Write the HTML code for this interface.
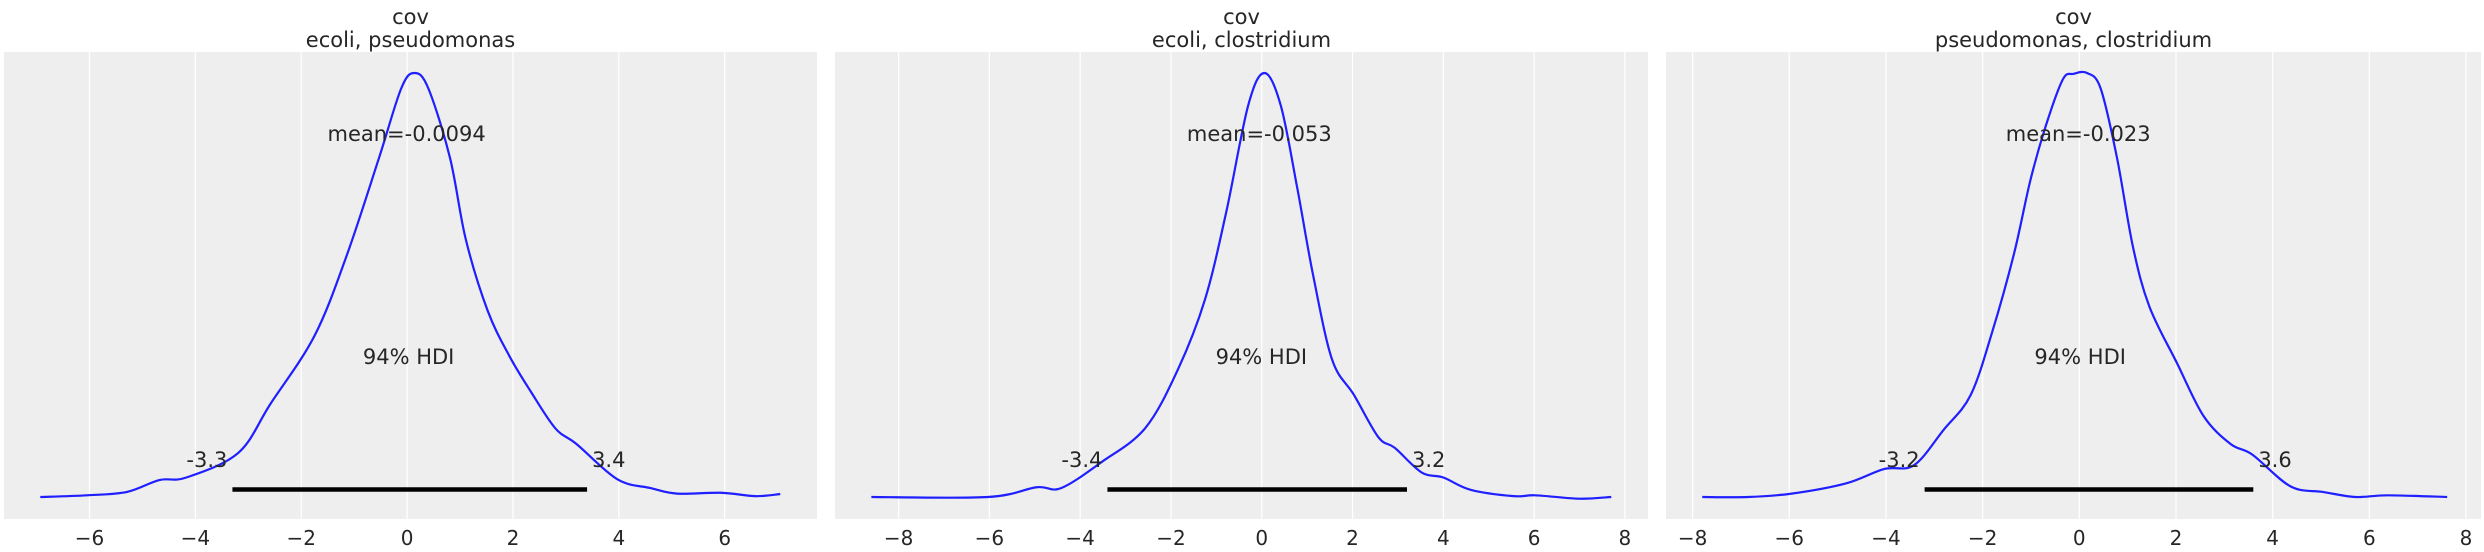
<!DOCTYPE html>
<html><head><meta charset="utf-8">
<style>
html,body{margin:0;padding:0;background:#fff;width:2484px;height:552px;overflow:hidden}
svg{display:block}
text{font-family:"DejaVu Sans","Liberation Sans",sans-serif;fill:#262626}
</style></head>
<body>
<svg id="chart" width="2484" height="552" viewBox="0 0 2484 552" xmlns="http://www.w3.org/2000/svg"></svg>
<script>
// Panel data
const titles = [["cov","ecoli, pseudomonas"],["cov","ecoli, clostridium"],["cov","pseudomonas, clostridium"]];
const means = ["-0.0094","-0.053","-0.023"];
const meanVals = [-0.0094,-0.053,-0.023];
const hdiLow = [-3.3,-3.4,-3.2];
const hdiHigh = [3.4,3.2,3.6];
const hdiLowLabels = ["-3.3","-3.4","-3.2"];
const hdiHighLabels = ["3.4","3.2","3.6"];
const ticks1 = [-6,-4,-2,0,2,4,6];
const ticks2 = [-8,-6,-4,-2,0,2,4,6,8];
const ticks3 = [-8,-6,-4,-2,0,2,4,6,8];
const kdeX1 = [-6.93,-6.05,-5.29,-4.68,-4.17,-3.19,-2.58,-1.75,-1.14,-0.53,-0.11,0.14,0.40,0.81,1.11,1.52,1.93,2.33,2.80,3.20,3.97,4.60,5.10,5.93,6.58,7.05];
const kdeY1 = [0,0.004,0.012,0.04,0.046,0.104,0.22,0.38,0.57,0.80,0.964,1,0.964,0.80,0.607,0.44,0.333,0.25,0.162,0.125,0.042,0.021,0.008,0.01,0.002,0.007];
const kdeX2 = [-8.6,-6.03,-4.96,-4.42,-3.52,-2.57,-1.85,-1.25,-0.78,-0.30,0.06,0.42,0.78,1.13,1.55,2.03,2.57,2.93,3.52,4.0,4.60,5.55,6.03,6.99,7.70];
const kdeY2 = [0,0,0.023,0.021,0.083,0.162,0.30,0.466,0.673,0.923,1,0.923,0.73,0.524,0.324,0.241,0.141,0.116,0.058,0.046,0.017,0.002,0.004,-0.004,0];
const kdeX3 = [-7.8,-6.85,-5.95,-4.83,-4.04,-3.42,-2.81,-2.25,-1.80,-1.35,-1.01,-0.68,-0.34,-0.12,0.16,0.44,0.78,1.11,1.45,2.02,2.57,3.13,3.58,4.37,5.04,5.71,6.38,7.61];
const kdeY3 = [0,0,0.008,0.032,0.066,0.075,0.158,0.24,0.39,0.574,0.748,0.88,0.985,0.998,1,0.964,0.80,0.59,0.449,0.316,0.191,0.125,0.10,0.025,0.012,0,0.004,0];

const panels = [
  {bx0:4,bx1:817,tMin:-6,tMax:6,tx0:89.5,tx1:724.7,ticks:ticks1,kx:kdeX1,ky:kdeY1},
  {bx0:835,bx1:1648,tMin:-8,tMax:8,tx0:898.6,tx1:1624.9,ticks:ticks2,kx:kdeX2,ky:kdeY2},
  {bx0:1666,bx1:2481,tMin:-8,tMax:8,tx0:1692.6,tx1:2466,ticks:ticks3,kx:kdeX3,ky:kdeY3}
];
const NS="http://www.w3.org/2000/svg";
const svg=document.getElementById('chart');
function mk(tag,attrs,parent){const e=document.createElementNS(NS,tag);for(const k in attrs)e.setAttribute(k,attrs[k]);(parent||svg).appendChild(e);return e;}
const Y0=52,Y1=519,BASE=497,PEAK=73;
function yScale(d){return BASE-d*(BASE-PEAK);}
function smoothPath(pts){
  let d="M"+pts[0][0]+","+pts[0][1];
  for(let i=0;i<pts.length-1;i++){
    const p0=pts[Math.max(0,i-1)],p1=pts[i],p2=pts[i+1],p3=pts[Math.min(pts.length-1,i+2)];
    const c1x=p1[0]+(p2[0]-p0[0])/6,c1y=p1[1]+(p2[1]-p0[1])/6;
    const c2x=p2[0]-(p3[0]-p1[0])/6,c2y=p2[1]-(p3[1]-p1[1])/6;
    d+=" C"+c1x.toFixed(2)+","+c1y.toFixed(2)+" "+c2x.toFixed(2)+","+c2y.toFixed(2)+" "+p2[0].toFixed(2)+","+p2[1].toFixed(2);
  }
  return d;
}
panels.forEach((p,i)=>{
  const g=mk('g',{});
  
  
  const xs=v=>p.tx0+(v-p.tMin)*(p.tx1-p.tx0)/(p.tMax-p.tMin);
  const bg=mk('rect',{x:p.bx0,y:Y0,width:p.bx1-p.bx0,height:Y1-Y0,fill:'#eeeeee'},g);
  
  
  p.ticks.forEach(t=>{
    const gl=mk('line',{x1:xs(t),x2:xs(t),y1:Y0,y2:Y1,stroke:'#ffffff','stroke-width':1.2},g);
    
    
    const tl=mk('text',{x:xs(t),y:545,'text-anchor':'middle','font-size':20},g);
    tl.textContent=(t<0?'\u2212'+Math.abs(t):String(t));
    
    
  });
  const cx=(p.bx0+p.bx1)/2;
  const t1=mk('text',{x:cx,y:24,'text-anchor':'middle','font-size':21},g);
  t1.textContent=titles[i][0];
  
  
  const t2=mk('text',{x:cx,y:47,'text-anchor':'middle','font-size':21},g);
  t2.textContent=titles[i][1];
  
  
  const pts=p.kx.map((v,k)=>[xs(v),yScale(p.ky[k])]);
  const path=mk('path',{d:smoothPath(pts),fill:'none',stroke:'#1f1fff','stroke-width':2.2},g);
  
  
  const bar=mk('line',{x1:xs(hdiLow[i]),x2:xs(hdiHigh[i]),y1:489.5,y2:489.5,stroke:'#000','stroke-width':4.5},g);
  
  
  const mt=mk('text',{x:xs(meanVals[i]),y:141,'text-anchor':'middle','font-size':21},g);
  mt.textContent='mean='+means[i];
  
  
  const ht=mk('text',{x:xs(meanVals[i])+2,y:364,'text-anchor':'middle','font-size':21},g);
  ht.textContent='94% HDI';
  
  
  const lo=mk('text',{x:xs(hdiLow[i])-5,y:467,'text-anchor':'end','font-size':21},g);
  lo.textContent=hdiLowLabels[i];
  
  
  const hi=mk('text',{x:xs(hdiHigh[i])+5,y:467,'text-anchor':'start','font-size':21},g);
  hi.textContent=hdiHighLabels[i];
  
  
});
</script>
</body></html>
